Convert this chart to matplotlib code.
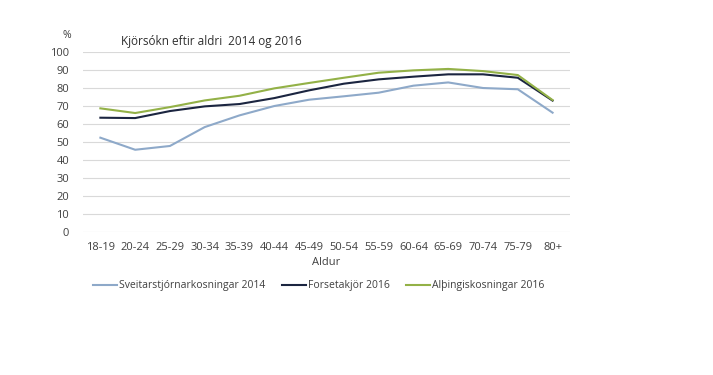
import matplotlib
matplotlib.use("Agg")
import matplotlib.pyplot as plt

# age groups and turnout (%)
age_groups = ["18-19", "20-24", "25-29", "30-34", "35-39", "40-44", "45-49",
              "50-54", "55-59", "60-64", "65-69", "70-74", "75-79", "80+"]
sveitarstjorn_2014 = [52.4, 45.7, 47.8, 58.3, 64.8, 70.0, 73.5,
                      75.4, 77.4, 81.3, 83.1, 80.0, 79.3, 66.3]
forsetakjor_2016 = [63.5, 63.3, 67.2, 69.8, 71.1, 74.4, 78.7,
                    82.4, 84.8, 86.3, 87.6, 87.6, 85.7, 73.0]
althingi_2016 = [68.7, 66.1, 69.4, 73.1, 75.7, 79.8, 82.8,
                 85.7, 88.5, 89.8, 90.6, 89.4, 87.2, 73.3]

plt.rcParams['font.family'] = ['Open Sans', 'DejaVu Sans']

fig = plt.figure(figsize=(7.13, 3.75), dpi=100)
ax = fig.add_axes([0.1164, 0.3813, 0.683, 0.48])

x = range(len(age_groups))
ax.plot(x, sveitarstjorn_2014, color='#8EA9C9', lw=1.5, label='Sveitarstjórnarkosningar 2014')
ax.plot(x, forsetakjor_2016, color='#1B2540', lw=1.5, label='Forsetakjör 2016')
ax.plot(x, althingi_2016, color='#93B147', lw=1.5, label='Alþingiskosningar 2016')

ax.set_xlim(-0.5, len(age_groups) - 0.5)
ax.set_ylim(0, 100)
ax.set_yticks(range(0, 101, 10))
ax.set_xticks(list(x))
ax.set_xticklabels(age_groups)
ax.grid(axis='y', color='#D9D9D9', lw=0.8)
ax.set_axisbelow(True)
for s in ax.spines.values():
    s.set_visible(False)
ax.tick_params(length=0, labelsize=8, colors='#404040')
ax.tick_params(axis='x', pad=7)
ax.tick_params(axis='y', pad=10)
ax.set_xlabel('Aldur', fontsize=8, color='#404040', labelpad=3)

fig.text(0.094, 0.905, '%', fontsize=7.5, color='#404040', ha='center', va='center')
fig.text(0.170, 0.888, 'Kjörsókn eftir aldri  2014 og 2016', fontsize=8.5,
         color='#303030', ha='left', va='center')

fig.legend(loc='center', bbox_to_anchor=(0.447, 0.238), ncol=3, frameon=False,
           fontsize=7.5, handlelength=2.3, columnspacing=1.6, handletextpad=0.2,
           labelcolor='#404040')

fig.savefig('out.png', dpi=100)
